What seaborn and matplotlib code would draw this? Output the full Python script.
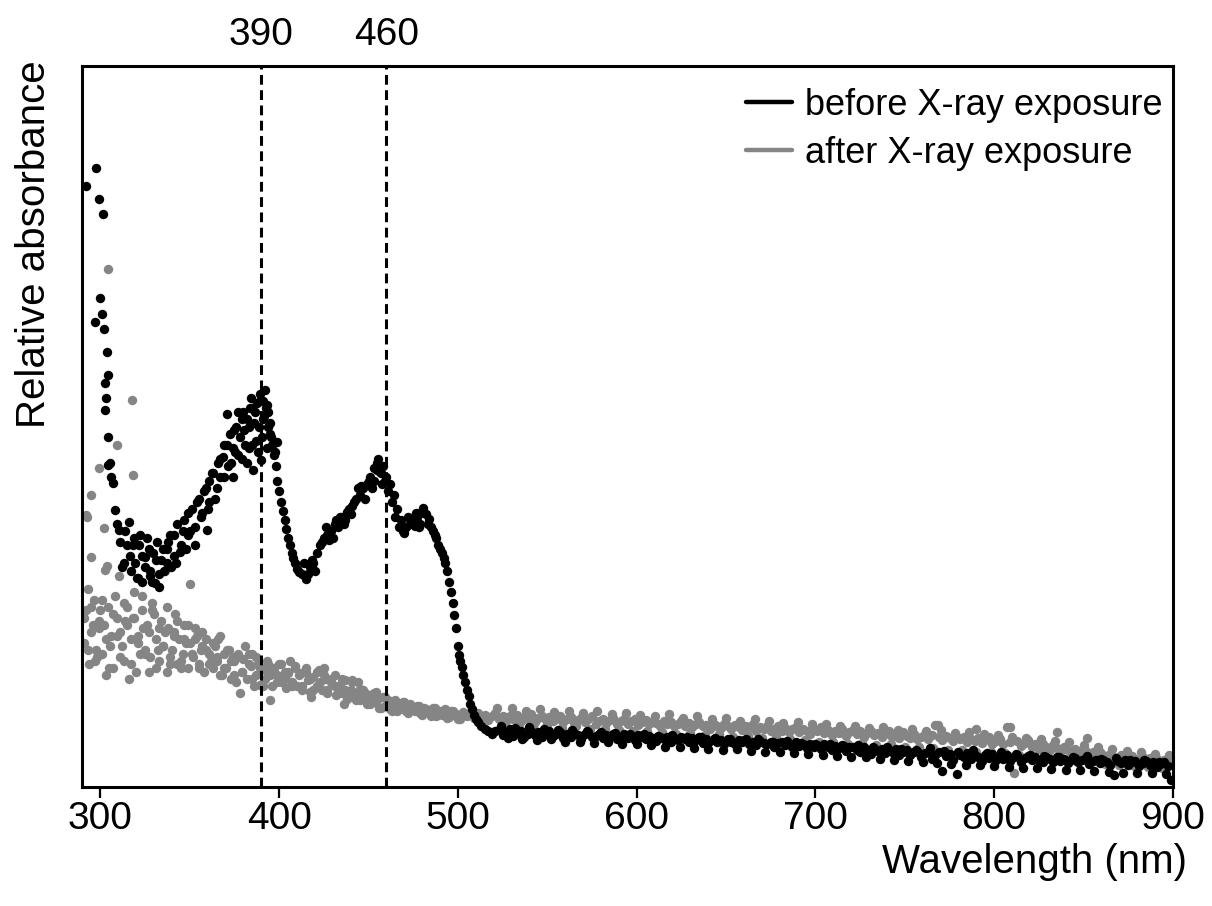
import numpy as np
import pandas as pd
import matplotlib
matplotlib.use("Agg")
import matplotlib.pyplot as plt
from matplotlib.lines import Line2D
import seaborn as sns

# Relative absorbance in arbitrary units (0 = bottom of frame, 100 = top)

# before exposure: sparse points at the UV edge
before_edge_nm = [291.8, 297.4, 299.1, 301.5, 297.1, 300.0, 300.9, 302.0, 302.3, 302.7, 303.3,
                  303.6, 304.2, 304.5, 304.5, 305.3, 306.2, 307.3, 308.3, 309.0, 310.2]
before_edge_val = [83.3, 85.9, 81.6, 79.5, 64.5, 67.8, 65.6, 63.5, 52.3, 56.0, 53.9,
                   60.3, 48.6, 57.1, 44.7, 44.9, 43.0, 42.1, 38.4, 36.5, 35.6]

# before exposure: one reading every 2 nm starting at 311 nm
before_start = 311
before_val = [
    34.0, 31.0, 33.5, 30.0, 34.5, 29.0, 32.0, 30.5, 33.0, 28.5,
    31.5, 29.5, 33.0, 31.0, 35.0, 32.0, 36.5, 33.5, 37.0, 35.0,
    38.5, 36.0, 40.0, 38.0, 41.5, 39.5, 43.5, 41.5, 45.5, 43.0,
    47.5, 45.0, 49.5, 46.0, 51.0, 47.5, 50.0, 52.5, 48.0, 53.5,
    51.0, 53.0, 49.0, 46.0, 42.5, 39.5, 37.0, 34.5, 32.5, 31.0,
    29.8, 29.5, 28.8, 30.5, 31.0, 32.5, 33.5, 34.5, 35.0, 35.5,
    36.5, 36.0, 37.5, 37.0, 38.5, 39.0, 40.0, 40.5, 41.5, 42.0,
    43.0, 42.5, 44.0, 43.5, 42.5, 41.0, 39.5, 37.5, 36.0, 35.5,
    36.0, 36.5, 37.0, 37.5, 36.5, 38.0, 36.5, 36.0, 35.0, 33.5,
    32.5, 31.0, 28.5, 25.5, 22.0, 17.5, 15.5, 13.5, 11.5, 10.0,
    9.0, 8.4, 8.0, 7.8, 7.3, 7.7,
    7.9, 7.2, 7.6, 8.0, 7.1, 7.5, 7.8, 7.0, 7.4, 7.7,
    7.2, 7.6, 6.9, 7.5, 7.8, 7.1, 7.3, 7.6, 6.8, 7.4,
    7.0, 7.5, 7.2, 6.7, 7.3, 7.6, 6.9, 7.1, 7.4, 6.8,
    7.2, 6.9, 7.3, 6.6, 7.0, 7.4, 6.8, 7.1, 6.5, 7.2,
    6.9, 6.6, 7.1, 6.8, 6.4, 7.0, 6.7, 6.9, 6.3, 6.8,
    6.5, 7.0, 6.6, 6.2, 6.8, 6.5, 6.9, 6.1, 6.6, 6.4,
    6.7, 6.2, 6.5, 6.0, 6.6, 6.3, 5.9, 6.5, 6.2, 6.6,
    6.0, 6.3, 5.8, 6.4, 6.1, 5.9, 6.3, 5.6, 6.1, 6.2,
    5.8, 6.0, 5.5, 6.2, 5.7, 5.9, 5.4, 6.0, 5.6, 5.8,
    5.3, 5.9, 5.5, 5.1, 5.7, 5.4, 5.8, 5.0, 5.5, 5.6,
    5.2, 4.9, 5.5, 5.1, 4.6, 5.4, 5.0, 5.3, 4.7, 5.1,
    4.8, 5.3, 4.5, 4.9, 5.2, 4.4, 4.8, 5.0, 4.2, 4.7,
    4.9, 3.9, 4.5, 4.8, 2.2, 4.3, 4.6, 3.8, 1.8, 4.4,
    4.1, 4.7, 3.9, 4.5, 4.2, 3.6, 4.4, 4.0, 4.6, 3.7,
    4.3, 3.9, 4.5, 3.6, 4.1, 4.4, 3.5, 4.0, 4.3, 3.7,
    4.2, 3.8, 3.4, 4.1, 3.9, 3.5, 4.2, 3.6, 3.9, 3.3,
    3.8, 4.0, 3.4, 3.7, 3.9, 3.2, 3.6, 3.8, 3.3, 3.7,
    3.5, 3.1, 1.7, 3.6, 3.3, 3.7, 3.0, 3.4, 3.6, 2.9,
    3.3, 3.6, 3.0, 3.4, 2.8, 3.2, 3.5, 2.9, 1.0,
]

# before exposure: second reading every 4 nm in the flat tail, from 524 nm
before_tail_start = 524
before_tail_val = [
    8.4, 6.8, 8.2, 6.7, 8.3, 6.5, 8.0, 6.6, 7.9, 6.3,
    7.9, 6.2, 7.8, 6.1, 7.6, 6.3, 7.5, 5.9, 7.4, 6.0,
    7.3, 5.8, 7.1, 5.6, 7.2, 5.5, 6.9, 5.4, 7.0, 5.3,
    6.8, 5.2, 6.6, 5.3, 6.5, 5.0, 6.6, 4.9, 6.3, 4.8,
    6.4, 4.7, 6.1, 4.6, 6.0, 4.5, 5.9, 4.3, 5.7, 4.2,
    5.8, 4.1, 5.5, 3.9, 5.6, 3.8, 5.3, 3.6, 5.2, 3.5,
    5.4, 3.3, 5.0, 3.2, 4.9, 3.0, 5.1, 3.1, 4.7, 2.9,
    4.8, 2.8, 4.6, 2.7, 4.5, 2.6, 4.3, 2.5, 4.2, 2.4,
    4.1, 2.3, 4.3, 2.2, 3.9, 2.1, 4.0, 2.0, 3.8, 1.9,
    3.7, 1.9, 3.5, 1.8,
]

# before exposure: extra scatter in the trough and the two bands (nm, value)
before_cloud = [
    (315.8, 36.8), (318, 33.5), (320.5, 29.0), (322, 35.0), (325.2, 31.9), (328, 30.0),
    (330.8, 28.3), (334, 31.5), (338, 34.0), (344.5, 32.6), (350, 35.5), (352.9, 33.6),
    (356, 37.5), (359.4, 35.6), (362.4, 43.6), (368.6, 45.8), (370.6, 51.8), (374.1, 43.0),
    (376, 50.0), (378, 48.5), (380, 52.0), (381.8, 44.9), (383, 47.0), (384, 54.0),
    (386, 50.5), (387.4, 53.3), (388, 46.5), (390.1, 45.4), (391, 53.5), (392, 55.1),
    (393.5, 50.0), (394.8, 50.5), (396, 47.5), (397.6, 46.5), (398.6, 47.9), (398, 44.5),
    (400, 41.0), (402, 38.3), (404, 35.8), (406, 33.5), (408, 31.8), (410, 30.3),
    (414, 31.0), (416, 29.5), (418.2, 31.5), (420, 30.0), (426, 36.0), (430, 34.5),
    (434, 37.5), (444, 41.5), (448, 40.0), (452, 41.5), (454.5, 45.0), (456.4, 43.7),
    (458, 44.5), (460, 43.0), (466, 38.5), (472, 37.5), (476.8, 38.0), (478, 36.0),
    (480.5, 38.7), (482, 37.8), (490, 33.0), (492, 31.8), (494, 30.0), (496, 27.0),
    (498, 23.8), (500, 19.5), (500.8, 18.3), (502, 16.6), (504, 14.5), (506, 12.6),
    (508, 10.8), (510, 9.4),
    (312, 30.5), (313.5, 35.5), (316.5, 32.0), (319.5, 31.0), (321.5, 33.5), (323.5, 28.5),
    (326, 34.5), (327.5, 29.2), (329.5, 32.5), (331.5, 34.0), (333, 27.8), (335.5, 30.0),
    (337, 33.0), (339.5, 30.5), (341, 35.0), (342.5, 31.0), (346, 35.5), (348, 33.0),
    (349, 38.0), (354, 39.5), (358, 41.0), (360, 38.5), (361, 42.5), (364, 40.0),
    (365.5, 45.0), (367, 43.0), (369, 47.5), (371.5, 44.5), (372.5, 49.0), (374, 47.0),
    (375.5, 46.5), (377, 52.0), (379, 45.5), (380.5, 49.5), (382, 51.0), (383.5, 52.5),
    (385, 47.5), (385.5, 44.0), (386.5, 52.0), (388.5, 50.0), (389, 54.5), (390.5, 48.5),
    (391.5, 51.5), (392.5, 52.5), (393, 47.0), (394, 52.0), (395.5, 48.5),
    (424, 34.0), (428, 34.2), (432, 37.0), (436, 36.5), (438, 38.2), (440, 37.8),
    (442, 39.5), (446, 41.8), (450, 42.5), (453, 44.2), (455.5, 45.5), (457.5, 42.0),
    (462, 42.0), (464, 40.5), (468, 37.0), (470, 35.2), (474, 37.2), (476, 36.2),
    (479, 38.0), (484, 37.2), (486, 35.5), (488, 34.5),
]

# after exposure: one reading every 2 nm starting at 291 nm
after_start = 291
after_val = [
    23.5, 19.0, 25.0, 17.5, 22.0, 26.0, 20.5, 16.5, 24.0, 21.0,
    18.0, 25.5, 22.5, 17.0, 23.5, 20.0, 26.5, 18.5, 21.5, 24.5,
    16.5, 22.0, 19.5, 25.0, 18.0, 21.0, 23.0, 17.5, 20.5, 22.5,
    18.5, 20.5, 16.5, 21.5, 19.0, 17.0, 20.0, 18.0, 21.0, 16.5,
    19.0, 17.5, 15.5, 18.5, 16.0, 19.5, 17.0, 15.0, 18.0, 16.5,
    14.0, 17.5, 15.5, 16.5, 14.5, 17.0, 15.0, 16.0, 14.0, 16.5,
    15.5, 14.0, 16.5, 15.0, 13.5, 16.0, 14.5, 15.5, 13.5, 15.0,
    14.0, 13.0, 15.0, 13.5, 12.5, 14.5, 13.0, 12.0, 13.5, 12.5,
    11.5, 13.0, 12.0, 11.0, 12.5, 11.5, 10.5, 12.0, 11.0, 11.8,
    10.5, 11.5, 10.8, 11.2, 10.2, 11.0, 10.6, 9.9, 10.9, 10.4,
    10.0, 10.8, 9.7, 10.5, 10.1, 9.5, 10.4, 9.9, 10.2, 9.6,
    10.3, 9.6, 10.0, 9.3, 9.9, 10.2, 9.5, 9.8, 9.2, 9.9,
    9.5, 10.0, 9.2, 9.7, 9.4, 10.1, 9.0, 9.6, 9.8, 9.3,
    9.7, 9.1, 9.5, 9.9, 9.0, 9.4, 9.7, 8.9, 9.3, 9.6,
    9.0, 9.4, 9.8, 8.8, 9.2, 9.5, 8.9, 9.3, 9.6, 8.7,
    9.1, 9.4, 8.8, 9.2, 9.5, 8.6, 9.0, 9.3, 8.7, 9.1,
    8.9, 8.5, 9.2, 8.7, 9.0, 8.4, 8.8, 9.1, 8.5, 8.9,
    8.3, 8.7, 9.0, 8.4, 8.6, 8.1, 8.8, 8.5, 8.2, 8.7,
    8.4, 8.0, 8.6, 8.3, 7.9, 8.5, 8.2, 8.7, 7.8, 8.3,
    8.0, 8.4, 7.7, 8.1, 8.5, 7.8, 8.2, 7.6, 8.0, 8.3,
    7.6, 8.1, 7.8, 7.4, 8.0, 7.7, 8.3, 7.5, 7.9, 7.2,
    7.8, 7.5, 8.0, 7.1, 7.6, 7.9, 7.3, 7.7, 7.0, 7.5,
    7.8, 7.2, 7.5, 6.9, 7.4, 7.7, 7.0, 7.3, 6.8, 7.6,
    7.1, 6.8, 7.4, 6.6, 7.0, 7.3, 6.7, 7.2, 8.6, 6.9,
    6.5, 7.1, 6.8, 6.4, 7.0, 6.6, 6.9, 6.2, 6.7, 6.4,
    6.8, 6.1, 6.5, 6.9, 6.0, 6.4, 6.7, 5.9, 8.3, 6.2,
    2.0, 6.4, 5.7, 6.1, 6.5, 5.6, 6.0, 5.3, 5.9, 5.5,
    5.1, 5.8, 5.4, 4.9, 5.6, 5.2, 4.7, 5.3, 5.0, 4.6,
    5.1, 4.5, 4.9, 4.3, 4.8, 4.4, 4.0, 4.6, 4.2, 3.9,
    4.5, 4.1, 3.8, 4.3, 3.9, 3.6, 4.2, 3.8, 4.0, 3.5,
    3.9, 3.4, 3.7, 3.2, 3.6,
]

# after exposure: second reading every 4 nm in the tail, from 522 nm
after_tail_start = 522
after_tail_val = [
    10.9, 8.5, 11.0, 8.8, 10.6, 8.3, 10.8, 8.6, 10.4, 8.2,
    10.5, 8.4, 10.2, 8.0, 10.6, 8.1, 10.1, 7.9, 10.3, 7.8,
    10.0, 7.7, 9.9, 7.6, 10.1, 7.4, 9.6, 7.5, 9.8, 7.2,
    9.5, 7.3, 9.6, 7.0, 9.2, 7.1, 9.4, 6.8, 9.1, 6.9,
    8.9, 6.6, 9.0, 6.5, 8.7, 6.3, 8.8, 6.2, 8.5, 6.0,
    8.4, 6.1, 8.2, 5.8, 8.3, 5.9, 7.9, 5.6, 8.1, 5.5,
    7.8, 5.4, 7.9, 5.2, 7.5, 5.1, 7.6, 4.9, 7.3, 4.8,
    7.2, 4.7, 7.0, 4.4, 6.8, 4.3, 6.7, 4.0, 6.4, 3.8,
    6.2, 3.6, 5.8, 3.5, 5.5, 3.2, 5.3, 3.1, 5.0, 2.9,
    4.9, 2.8, 4.6, 2.7, 4.4,
]

# after exposure: UV outliers and the wide cloud below 500 nm (nm, value)
after_cloud = [
    (291.9, 37.7), (292.7, 37.5), (294.5, 40.5), (294.5, 31.9), (299.1, 44.2), (302.0, 35.9),
    (302.6, 30.1), (303.8, 30.6), (304.4, 71.9), (309.0, 47.4), (310.3, 29.2), (317.4, 53.7),
    (318.4, 43.3), (336.3, 29.9), (350.1, 28.2),
    (293, 27.5), (296, 22.5), (298, 18.0), (300, 24.5), (303, 15.5), (306, 21.0),
    (308, 26.5), (312, 19.5), (314, 23.0), (316, 15.0), (319, 27.0), (322, 18.5),
    (324, 22.0), (327, 16.0), (330, 24.0), (332, 19.0), (336, 21.5), (339, 17.0),
    (342, 24.0), (345, 16.5), (348, 20.0), (353, 22.0), (357, 19.5), (362, 17.5),
    (366, 20.5), (368, 15.5), (374, 18.0), (378, 13.0), (383, 18.5), (386, 14.0),
    (393, 16.0), (395, 12.0), (402, 15.0), (406, 17.5), (418, 12.5), (425, 16.5),
    (436, 11.5), (444, 14.5), (768.4, 8.6), (808.7, 8.3), (790, 8.0), (835, 7.6), (852, 6.8),
    (291, 20.0), (292, 24.5), (293.5, 17.0), (295, 21.5), (296.5, 26.0), (297.5, 19.0),
    (299, 23.0), (301, 18.5), (302, 22.5), (304.5, 25.0), (305.5, 19.5), (307, 16.5),
    (309, 23.5), (311, 21.5), (313, 17.5), (315, 25.0), (317, 20.5), (318, 23.5),
    (320, 16.0), (321, 21.0), (323, 24.5), (325, 19.0), (326, 22.5), (328, 18.0),
    (329, 25.5), (331, 20.5), (333, 17.5), (334, 23.0), (335, 19.5), (337, 16.0),
    (338, 22.0), (340, 19.0), (341, 21.5), (343, 17.0), (344, 20.5), (346, 18.5),
    (347, 22.5), (349, 16.5), (350, 20.0), (352, 18.0), (354, 21.0), (355, 17.0),
    (356, 19.0), (358, 16.0), (359, 20.5), (361, 18.5), (363, 16.5), (364, 19.5),
    (365, 17.5), (367, 15.5), (369, 18.5), (370, 16.5), (372, 19.0), (373, 15.0),
    (375, 17.5), (376, 14.5), (377, 18.0), (379, 16.0), (380, 17.8), (382, 15.0),
    (384, 16.8), (385, 18.5), (387, 15.5), (388, 17.0), (389, 14.2), (390, 16.5),
    (392, 15.0), (394, 17.0), (396, 14.0), (397, 16.5), (399, 15.5), (400, 17.0),
    (401, 14.5), (403, 16.0), (404, 13.8), (405, 15.8), (407, 14.5), (409, 16.8),
    (410, 14.0), (412, 15.8), (413, 13.5), (415, 16.0), (416, 14.8), (417, 13.2),
    (419, 15.2), (421, 14.0), (422, 16.2), (424, 13.5), (426, 15.0), (427, 13.0),
    (429, 14.5), (431, 15.5), (432, 12.8), (434, 14.2), (435, 13.0), (437, 14.8),
    (438, 12.2), (440, 13.5), (441, 14.8), (443, 12.0), (445, 13.6), (446, 12.5),
    (448, 13.0), (449, 11.5), (451, 12.8), (453, 11.8), (454, 13.2), (456, 11.0),
    (458, 12.5), (459, 11.2), (461, 12.0), (462, 10.8), (464, 11.8), (466, 10.5),
    (467, 11.5), (469, 10.8), (470, 11.8), (472, 10.2), (474, 11.0), (476, 10.5),
    (478, 11.3), (480, 10.0), (482, 10.8), (484, 10.2), (486, 11.0), (488, 9.8),
    (490, 10.6), (492, 10.2), (494, 9.6), (496, 10.5), (498, 10.0), (500, 9.5),
]

peak_lines = [390, 460]
x_ticks = [300, 400, 500, 600, 700, 800, 900]
series_labels = ["before X-ray exposure", "after X-ray exposure"]

BLACK = "#000000"
GRAY = "#858585"

before = pd.concat([
    pd.DataFrame({"nm": before_edge_nm, "val": before_edge_val}),
    pd.DataFrame({"nm": before_start + 2 * np.arange(len(before_val)), "val": before_val}),
    pd.DataFrame({"nm": before_tail_start + 4 * np.arange(len(before_tail_val)), "val": before_tail_val}),
    pd.DataFrame(before_cloud, columns=["nm", "val"]),
], ignore_index=True)

after = pd.concat([
    pd.DataFrame({"nm": after_start + 2 * np.arange(len(after_val)), "val": after_val}),
    pd.DataFrame({"nm": after_tail_start + 4 * np.arange(len(after_tail_val)), "val": after_tail_val}),
    pd.DataFrame(after_cloud, columns=["nm", "val"]),
], ignore_index=True)

sns.set_style("ticks")
plt.rcParams["font.family"] = ["Liberation Sans", "DejaVu Sans"]
plt.rcParams["text.color"] = "black"
plt.rcParams["axes.labelcolor"] = "black"
plt.rcParams["xtick.color"] = "black"

fig = plt.figure(figsize=(12.12, 9.06), dpi=100)
ax = fig.add_axes([82 / 1212, 119 / 906, 1091 / 1212, 721 / 906])

sns.scatterplot(data=after, x="nm", y="val", color=GRAY, s=46, linewidth=0,
                ax=ax, legend=False, zorder=2)
sns.scatterplot(data=before, x="nm", y="val", color=BLACK, s=46, linewidth=0,
                ax=ax, legend=False, zorder=3)

for wl in peak_lines:
    ax.axvline(wl, color="black", lw=2.2, dashes=(3.2, 1.8), zorder=4)
    ax.text(wl, 1.029, str(wl), transform=ax.get_xaxis_transform(),
            ha="center", va="baseline", fontsize=28, color="black")

ax.set_xlim(289.7, 900)
ax.set_ylim(0, 100)
ax.set_xticks(x_ticks)
ax.set_yticks([])
ax.tick_params(axis="x", labelsize=28, length=8, width=1.6, pad=2, direction="out",
               colors="black")

for side in ["left", "right", "top", "bottom"]:
    ax.spines[side].set_visible(True)
    ax.spines[side].set_linewidth(2.2)
    ax.spines[side].set_color("black")

ax.set_xlabel("Wavelength (nm)", fontsize=29, loc="right")
ax.xaxis.set_label_coords(1.0128, -0.077)
ax.set_ylabel("Relative absorbance", fontsize=29, loc="top")
ax.yaxis.set_label_coords(-0.027, 1.008)

handles = [Line2D([], [], color=BLACK, lw=3.2), Line2D([], [], color=GRAY, lw=3.2)]
ax.legend(handles, series_labels, loc="upper right", bbox_to_anchor=(0.99, 0.970),
          frameon=False, fontsize=26, handlelength=1.25, handletextpad=0.36,
          labelspacing=0.37, borderpad=0, borderaxespad=0)

fig.savefig("out.png", dpi=100)
